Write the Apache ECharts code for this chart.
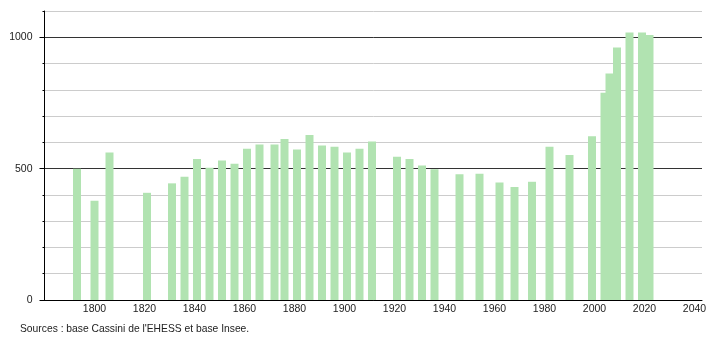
<!DOCTYPE html>
<html>
<head>
<meta charset="utf-8">
<script src="https://cdn.jsdelivr.net/npm/echarts@6/dist/echarts.min.js"></script>
<style>html,body{margin:0;padding:0;background:#fff}#c{width:710px;height:340px}</style>
</head>
<body>
<div id="c"></div>
<script>
const years = [1793,1800,1806,1821,1831,1836,1841,1846,1851,1856,1861,1866,1872,1876,1881,1886,1891,1896,1901,1906,1911,1921,1926,1931,1936,1946,1954,1962,1968,1975,1982,1990,1999,2004,2006,2009,2014,2019,2022];
const population = [500,378,561,408,444,469,537,503,531,519,576,592,592,613,573,628,588,583,561,576,603,545,537,512,498,479,481,447,430,450,583,552,623,789,862,961,1018,1018,1009];
const xTickLabels = [1800,1820,1840,1860,1880,1900,1920,1940,1960,1980,2000,2020,2040];
const yTickLabels = [0,500,1000];
const sourceText = "Sources : base Cassini de l'EHESS et base Insee.";

const chart = echarts.init(document.getElementById('c'), null, {renderer:'canvas'});
const font = 'Liberation Sans, Arial, sans-serif';
const gridColors = [];
for (let v = 0; v <= 1100; v += 100) gridColors.push(v % 500 === 0 ? '#333333' : '#cccccc');

chart.setOption({
  animation: false,
  backgroundColor: '#ffffff',
  grid: {left: 44.5, right: 8, top: 11, bottom: 40, containLabel: false},
  xAxis: {
    type: 'value', min: 1780, max: 2043, interval: 20,
    axisLine: {show: true, lineStyle: {color: '#000', width: 1}},
    axisTick: {show: false},
    splitLine: {show: false},
    axisLabel: {
      margin: 4, fontSize: 10.5, color: '#222', fontFamily: font,
      showMinLabel: true, showMaxLabel: true,
      formatter: v => xTickLabels.includes(v) ? String(v) : ''
    }
  },
  yAxis: [{
    type: 'value', min: 0, max: 1100, interval: 100,
    axisLine: {show: true, lineStyle: {color: '#000', width: 1}},
    axisTick: {show: true, length: 2, lineStyle: {color: '#000'}},
    splitLine: {show: true, lineStyle: {color: gridColors, width: 1}},
    axisLabel: {
      margin: 12, fontSize: 10.5, color: '#222', fontFamily: font,
      formatter: v => yTickLabels.includes(v) ? String(v) : ''
    }
  }, {
    type: 'value', min: 0, max: 1100, position: 'left',
    axisLine: {show: false},
    axisTick: {show: true, length: 5, customValues: yTickLabels, lineStyle: {color: '#000'}},
    axisLabel: {show: false},
    splitLine: {show: false}
  }],
  series: [{
    type: 'bar',
    yAxisIndex: 0,
    barWidth: 8,
    itemStyle: {color: '#b1e3b1'},
    data: years.map((y, i) => [y, population[i]])
  }],
  graphic: [{
    type: 'text', left: 20, top: 324.5,
    style: {text: sourceText, fill: '#222', font: '10.3px Liberation Sans, Arial, sans-serif'}
  }]
});
</script>
</body>
</html>
